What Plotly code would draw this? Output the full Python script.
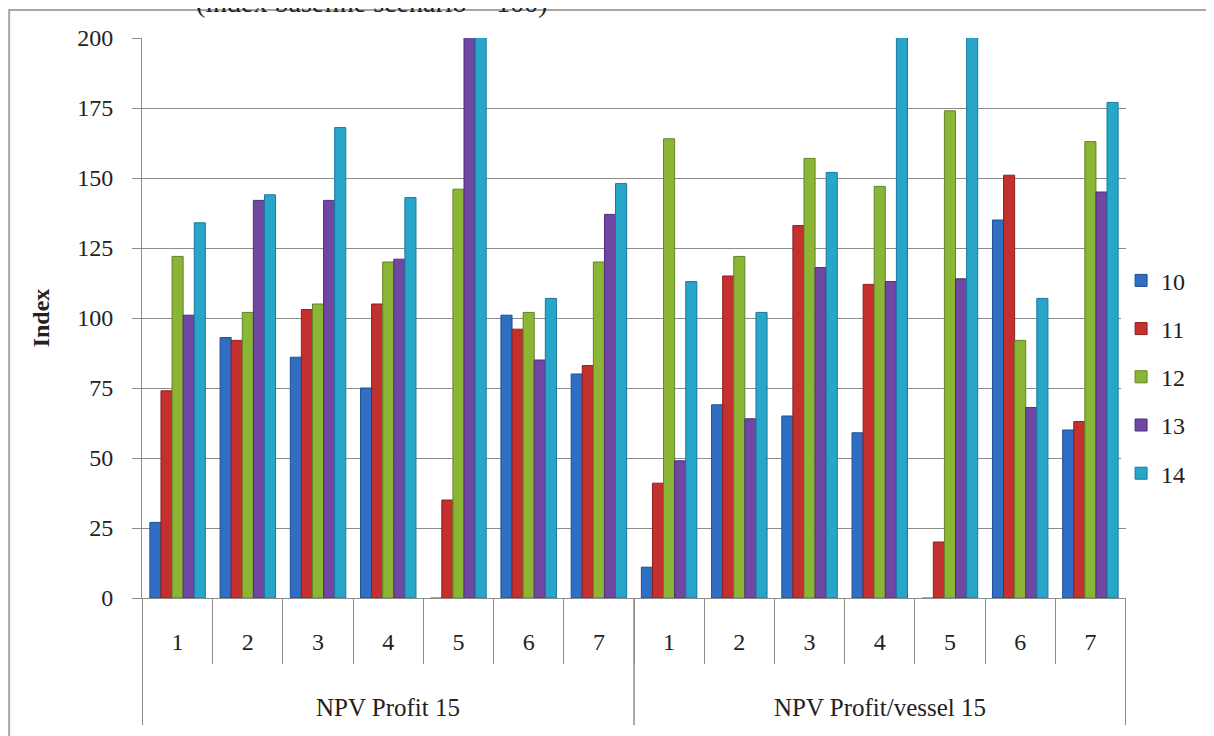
import plotly.graph_objects as go

groups = ["NPV Profit 15"] * 7 + ["NPV Profit/vessel 15"] * 7
cats = ["1", "2", "3", "4", "5", "6", "7"] * 2

series_names = ["10", "11", "12", "13", "14"]
s10 = [27, 93, 86, 75, -0.8, 101, 80, 11, 69, 65, 59, -0.8, 135, 60]
s11 = [74, 92, 103, 105, 35, 96, 83, 41, 115, 133, 112, 20, 151, 63]
s12 = [122, 102, 105, 120, 146, 102, 120, 164, 122, 157, 147, 174, 92, 163]
s13 = [101, 142, 142, 121, 240, 85, 137, 49, 64, 118, 113, 114, 68, 145]
s14 = [134, 144, 168, 143, 240, 107, 148, 113, 102, 152, 240, 240, 107, 177]
colors = ["#2f6ec2", "#c4302d", "#8ab535", "#7047a3", "#27a6ca"]
edges = ["#1d4f94", "#8e1f1d", "#62842a", "#4e2f78", "#17799a"]

font = "Liberation Serif"
grey = "#8c8c8c"

# one unique key per bar cluster, shown as the plain category number
keys = [g + " | " + c for g, c in zip(groups, cats)]

fig = go.Figure()

for name, vals, c, e in zip(series_names, [s10, s11, s12, s13, s14], colors, edges):
    fig.add_trace(go.Bar(
        x=keys,
        y=vals,
        name=name,
        legendgroup=name,
        marker=dict(color=c, line=dict(color=e, width=1)),
        # series 10 never exceeds the range, so let its tiny negatives show
        cliponaxis=(name != "10"),
    ))

# group labels and the long dividers between the groups
group_names = list(dict.fromkeys(groups))
for g in group_names:
    idx = [i for i, gg in enumerate(groups) if gg == g]
    fig.add_annotation(text=g, xref="x", yref="paper",
                       x=(idx[0] + idx[-1]) / 2, y=-0.196,
                       xanchor="center", yanchor="middle", showarrow=False,
                       font=dict(family=font, size=25, color="#222"))
    for b in (idx[0] - 0.5, idx[-1] + 0.5):
        fig.add_shape(type="line", xref="x", yref="paper",
                      x0=b, x1=b, y0=0, y1=-0.227,
                      line=dict(color=grey, width=1))

# outer frame of the embedded chart
fig.add_shape(type="rect", xref="paper", yref="paper",
              x0=-0.135, x1=1.3, y0=-0.6, y1=1.05,
              line=dict(color="#a6a6a6", width=2), layer="below")

# caption cut by the top edge, as in the source image
fig.add_annotation(text="(index baseline scenario = 100)", xref="paper", yref="paper",
                   x=0.234, y=1.064, xanchor="center", yanchor="middle", showarrow=False,
                   font=dict(family=font, size=28, color="#222"))

fig.update_layout(
    width=1214, height=736,
    margin=dict(l=134, r=96, t=30, b=146),
    paper_bgcolor="white", plot_bgcolor="white",
    barmode="group", bargap=0.21, bargroupgap=0,
    font=dict(family=font, size=24, color="#222"),
    showlegend=True,
    legend=dict(x=0.995, y=0.395, xanchor="left", yanchor="middle",
                font=dict(family=font, size=24), tracegroupgap=14,
                itemwidth=30),
    xaxis=dict(type="category", tickvals=keys, ticktext=cats,
               tickson="boundaries", showline=True, linecolor=grey,
               ticks="outside", tickcolor=grey, ticklen=65,
               ticklabelstandoff=22,
               tickfont=dict(family=font, size=24), showgrid=False,
               automargin=False),
    yaxis=dict(range=[0, 200], tickvals=[0, 25, 50, 75, 100, 125, 150, 175, 200],
               showline=True, linecolor=grey, ticks="outside", ticklen=9,
               tickcolor=grey, gridcolor=grey, gridwidth=1,
               zeroline=False, tickfont=dict(family=font, size=24),
               ticklabelstandoff=14, automargin=False,
               title=dict(text="<b>Index</b>", font=dict(family=font, size=24), standoff=20)),
)

fig.write_html("out.html")
